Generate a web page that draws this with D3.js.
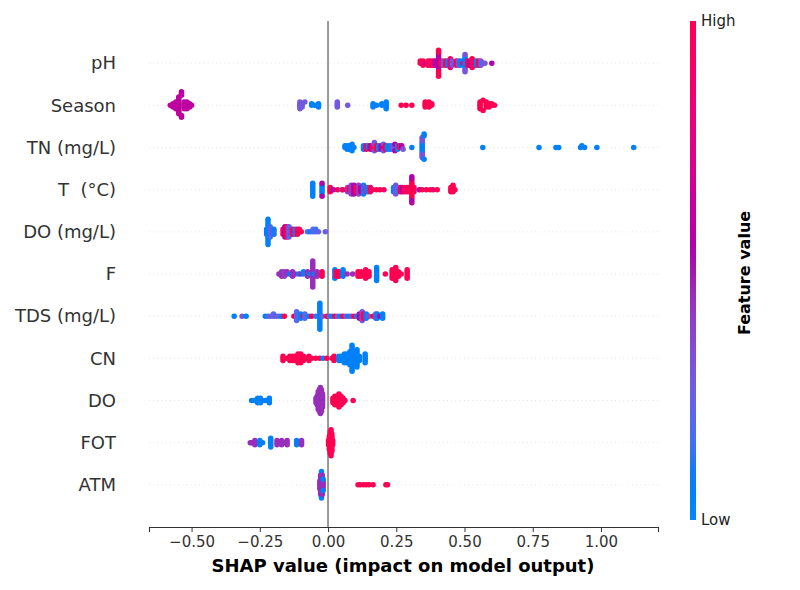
<!DOCTYPE html>
<meta charset="utf-8">
<body style="margin:0;background:#fff">
<script src="https://cdn.jsdelivr.net/npm/d3@7"></script>
<script>
var features = ["pH", "Season", "TN (mg/L)", "T  (°C)", "DO (mg/L)", "F", "TDS (mg/L)", "CN", "DO", "FOT", "ATM"];

// each entry: [shap value, feature value (0 low .. 1 high), number of samples]
var pH = [[0.338,1,2],[0.348,1,3],[0.358,0.55,1],[0.366,1,3],[0.375,0.9,3],[0.384,1,3],[0.392,0.6,3],
  [0.405,0.55,8],[0.405,1,5],[0.415,1,3],[0.423,0.28,3],[0.432,1,3],[0.44,0.05,3],[0.448,0.85,5],[0.456,0.3,3],
  [0.464,0.15,1],[0.47,1,3],[0.478,0.3,3],[0.486,0.05,3],[0.494,0.9,1],[0.502,0.05,6],[0.502,0.3,3],[0.512,1,3],
  [0.52,0.55,3],[0.528,1,5],[0.536,0.9,3],[0.544,0.1,3],[0.552,1,3],[0.56,0.3,3],[0.568,0.15,1],[0.575,0.3,1],[0.6,0.55,1]];
var season = [[-0.578,0.6,1],[-0.568,0.6,3],[-0.558,0.6,5],[-0.547,0.6,11],[-0.537,0.6,5],[-0.527,0.6,5],
  [-0.517,0.6,5],[-0.507,0.6,3],[-0.5,0.6,1],
  [-0.103,0.28,5],[-0.095,0.28,3],[-0.085,0.28,1],[-0.06,0.05,2],[-0.048,0.05,1],[-0.035,0.05,3],
  [0.034,0.28,4],[0.072,0.28,1],[0.165,0.05,3],[0.178,0.05,1],[0.197,0.05,2],[0.213,0.05,5],
  [0.268,1,1],[0.286,1,1],[0.307,1,1],[0.356,1,4],[0.37,1,4],[0.38,1,2],
  [0.557,1,5],[0.568,1,2],[0.58,1,4],[0.59,1,3],[0.6,1,2],[0.61,1,1]];
var tn = [[0.062,0.05,2],[0.07,0.05,3],[0.078,0.05,3],[0.088,0.05,2],[0.095,0.05,1],
  [0.13,0.05,3],[0.14,1,3],[0.148,0.05,2],[0.155,0.55,3],[0.163,1,3],[0.17,0.3,3],[0.178,1,3],[0.186,0.05,3],
  [0.195,0.55,3],[0.203,0.3,2],[0.21,1,3],[0.218,0.05,3],[0.228,0.05,3],[0.238,0.3,3],[0.245,0.55,2],
  [0.255,0.05,3],[0.262,1,2],[0.27,0.55,2],[0.275,0.3,1],[0.307,0.05,1],
  [0.345,0.05,7],[0.345,0.3,6],[0.352,0.05,3],[0.567,0.05,1],[0.773,0.05,1],[0.835,0.05,1],[0.845,0.05,1],
  [0.925,0.05,1],[0.93,0.05,1],[0.94,0.05,1],[0.985,0.05,1],[1.12,0.05,1]];
var temp = [[-0.056,0.05,7],[-0.022,0.05,5],[-0.022,0.55,2],[0.008,1,3],[0.02,0.55,1],[0.035,1,1],[0.05,0.3,1],[0.055,1,1],
  [0.072,0.4,3],[0.078,1,2],[0.085,0.4,5],[0.095,0.55,5],[0.103,1,3],[0.112,0.4,5],[0.12,0.6,3],[0.13,0.1,5],
  [0.138,0.4,3],[0.146,0.05,3],[0.155,1,3],[0.163,0.9,1],[0.177,1,1],[0.19,1,1],[0.205,0.9,1],
  [0.24,0.05,3],[0.248,0.3,5],[0.255,0.15,3],[0.265,1,3],[0.272,0.55,3],[0.28,1,3],[0.29,0.9,3],[0.298,1,3],
  [0.307,1,9],[0.307,0.55,4],[0.315,1,3],[0.335,0.55,1],[0.345,1,1],[0.36,1,1],[0.375,1,1],[0.385,0.9,1],
  [0.4,1,1],[0.45,1,3],[0.458,1,4],[0.465,1,1]];
var doMg = [[-0.225,0.08,3],[-0.22,0.05,11],[-0.212,0.15,5],[-0.205,0.3,3],[-0.198,0.1,3],
  [-0.165,1,3],[-0.158,0.55,5],[-0.15,1,5],[-0.143,0.2,5],[-0.135,0.4,3],[-0.128,1,3],[-0.12,0.1,3],
  [-0.112,1,3],[-0.105,0.9,2],[-0.098,1,1],[-0.075,0.2,1],[-0.065,0.1,1],[-0.055,0.2,2],[-0.045,0.15,2],
  [-0.035,0.25,1],[-0.01,0.25,1]];
var fVal = [[-0.18,0.45,1],[-0.17,0.45,3],[-0.16,0.4,3],[-0.15,0.45,2],[-0.14,0.08,1],[-0.13,0.45,3],[-0.12,0.45,1],
  [-0.108,0.05,1],[-0.1,0.45,1],[-0.09,0.05,2],[-0.075,0.45,3],[-0.065,0.05,1],[-0.056,0.45,13],[-0.05,0.05,1],
  [-0.04,0.45,3],[-0.022,1,3],[0.025,0.05,5],[0.03,1,3],[0.04,1,3],[0.055,0.05,4],[0.07,0.45,1],[0.09,0.45,1],
  [0.11,1,3],[0.12,1,3],[0.128,1,1],[0.138,1,5],[0.15,1,3],[0.178,0.05,7],[0.21,1,1],[0.235,1,5],[0.248,1,7],
  [0.258,1,3],[0.268,1,1],[0.29,1,5]];
var tds = [[-0.344,0.05,1],[-0.315,0.3,1],[-0.3,0.05,1],[-0.23,0.05,1],[-0.22,0.15,1],[-0.21,0.3,1],[-0.2,0.2,2],
  [-0.19,0.3,1],[-0.18,0.2,1],[-0.17,0.05,1],[-0.16,1,1],[-0.125,1,1],[-0.115,0.2,5],[-0.1,0.05,3],[-0.09,1,1],
  [-0.085,0.2,3],[-0.07,0.05,1],[-0.06,1,1],[-0.045,0.15,1],[-0.03,0.05,13],[-0.02,0.2,1],[-0.005,1,1],
  [0.005,0.2,1],[0.015,0.05,1],[0.025,1,1],[0.035,0.3,1],[0.045,0.05,1],[0.055,1,1],[0.065,0.3,1],[0.075,0.05,1],
  [0.085,0.3,1],[0.095,1,1],[0.105,0.05,1],[0.115,0.55,3],[0.125,0.3,5],[0.13,1,3],[0.14,0.05,3],[0.15,0.3,1],
  [0.165,1,1],[0.175,0.3,3],[0.18,0.05,3],[0.19,0.55,1],[0.2,0.05,3]];
var cn = [[-0.165,1,3],[-0.15,1,1],[-0.14,1,3],[-0.13,1,3],[-0.12,1,3],[-0.11,1,5],[-0.1,1,5],[-0.09,1,3],
  [-0.08,1,1],[-0.07,1,3],[-0.06,1,1],[-0.045,1,1],[-0.03,1,1],[-0.018,0.05,1],[-0.005,1,1],[0.015,1,1],
  [0.022,1,3],[0.03,1,1],[0.04,0.05,3],[0.05,0.05,3],[0.06,0.05,5],[0.07,0.05,5],[0.08,0.05,7],[0.088,0.05,13],
  [0.098,0.05,7],[0.106,0.05,9],[0.115,0.05,3],[0.136,0.05,5]];
var doSat = [[-0.28,0.05,1],[-0.27,0.05,1],[-0.258,0.05,3],[-0.248,0.05,3],[-0.24,0.05,1],[-0.23,0.05,1],[-0.215,0.05,3],
  [-0.044,0.45,3],[-0.04,0.45,5],[-0.036,0.45,9],[-0.032,0.45,11],[-0.028,0.45,13],[-0.024,0.45,11],
  [-0.02,0.45,7],[0.018,1,3],[0.025,1,5],[0.033,1,5],[0.04,1,7],[0.048,1,5],[0.055,1,3],
  [0.062,1,1],[0.092,1,1]];
var fot = [[-0.285,0.45,1],[-0.28,0.45,1],[-0.275,0.45,1],[-0.268,0.45,3],[-0.262,0.45,1],[-0.25,0.05,3],[-0.24,0.05,1],
  [-0.21,0.05,5],[-0.187,0.45,3],[-0.18,0.45,1],[-0.17,0.45,3],[-0.16,0.45,1],[-0.15,0.45,3],[-0.115,0.05,3],
  [-0.097,0.45,3],[0.002,1,3],[0.005,1,7],[0.008,1,11],[0.011,1,13],[0.014,1,9],[0.017,1,3]];
var atm = [[-0.03,0.45,5],[-0.027,0.45,11],[-0.024,0.45,13],[-0.024,0.05,2],[-0.021,0.45,11],[-0.018,0.45,5],
  [-0.018,0.05,2],[0.11,1,1],[0.118,1,1],[0.13,1,1],[0.14,1,1],[0.15,1,1],[0.165,1,1],[0.212,1,1],[0.218,1,1]];

var rows = [pH, season, tn, temp, doMg, fVal, tds, cn, doSat, fot, atm];
var xTicks = [-0.5, -0.25, 0, 0.25, 0.5, 0.75, 1.0];

var svg = d3.select("body").append("svg").attr("width", 800).attr("height", 590)
  .style("font-family", "DejaVu Sans, sans-serif");

var x = d3.scaleLinear().domain([-0.656, 1.209]).range([149, 658]);
var y = d3.scaleLinear().domain([-1, features.length]).range([527, 21]);
var n = features.length;

// shap red_blue colormap (interpolated in LCH)
function shapColor(t) {
  var l = t < 0.5 ? 54 - 28 * t : 40 + 28 * (t - 0.5);
  var c = 70 + 20 * t;
  var h = (4.6588 + t * (0.35470565 + 2 * Math.PI - 4.6588)) * 180 / Math.PI;
  return d3.hcl(h, c, l).formatHex();
}

// grid lines
features.forEach(function (f, i) {
  svg.append("line").attr("x1", 149).attr("x2", 658)
    .attr("y1", y(n - 1 - i)).attr("y2", y(n - 1 - i))
    .attr("stroke", "#cccccc").attr("stroke-width", 0.7).attr("stroke-dasharray", "0.7,3.5");
});

// zero line
svg.append("line").attr("x1", x(0)).attr("x2", x(0)).attr("y1", 21).attr("y2", 527)
  .attr("stroke", "#999999").attr("stroke-width", 2);

// beeswarm
rows.forEach(function (clusters, i) {
  var pos = n - 1 - i;
  var pts = [];
  clusters.forEach(function (c) { for (var k = 0; k < c[2]; k++) pts.push({s: c[0], v: c[1]}); });
  var mn = d3.min(pts, function (p) { return p.s; }), mx = d3.max(pts, function (p) { return p.s; });
  pts.forEach(function (p) { p.q = Math.round(100 * (p.s - mn) / (mx - mn + 1e-8)); });
  var order = d3.range(pts.length).sort(function (a, b) { return pts[a].q - pts[b].q || a - b; });
  var layer = 0, last = -1;
  order.forEach(function (k) {
    if (pts[k].q !== last) layer = 0;
    pts[k].ly = Math.ceil(layer / 2) * ((layer % 2) * 2 - 1);
    layer++;
    last = pts[k].q;
  });
  var mL = d3.max(pts, function (p) { return p.ly + 1; });
  svg.append("g").selectAll("circle").data(pts).enter().append("circle")
    .attr("cx", function (p) { return x(p.s); })
    .attr("cy", function (p) { return y(pos + p.ly * 0.9 * 0.4 / mL); })
    .attr("r", 2.75)
    .attr("fill", function (p) { return shapColor(p.v); });
});

// feature labels
features.forEach(function (f, i) {
  svg.append("text").attr("x", 116).attr("y", y(n - 1 - i)).attr("dy", "0.35em")
    .attr("text-anchor", "end").style("white-space", "pre")
    .attr("font-size", 18).attr("fill", "#333333").text(f);
});

// x axis
var ax = svg.append("g").attr("transform", "translate(0,527)")
  .call(d3.axisBottom(x).tickValues(xTicks).tickFormat(d3.format(".2f")).tickSizeOuter(0).tickSize(5).tickPadding(4));
ax.select(".domain").attr("stroke", "#333333").attr("stroke-width", 1.1);
ax.selectAll(".tick line").attr("stroke", "#333333");
ax.selectAll(".tick text").attr("font-size", 15).attr("fill", "#333333").attr("font-family", "DejaVu Sans, sans-serif");

svg.append("text").attr("x", 403).attr("y", 572).attr("text-anchor", "middle")
  .attr("font-size", 18).attr("font-weight", "bold").attr("fill", "#000")
  .text("SHAP value (impact on model output)");

// colour bar
var grad = svg.append("defs").append("linearGradient").attr("id", "cb")
  .attr("x1", 0).attr("y1", 1).attr("x2", 0).attr("y2", 0);
d3.range(0, 1.0001, 0.05).forEach(function (t) {
  grad.append("stop").attr("offset", t).attr("stop-color", shapColor(t));
});
svg.append("rect").attr("x", 690).attr("y", 21).attr("width", 6).attr("height", 499).attr("fill", "url(#cb)");
svg.append("text").attr("x", 701).attr("y", 21).attr("dy", "0.35em").attr("font-size", 15).attr("fill", "#222").text("High");
svg.append("text").attr("x", 701).attr("y", 520).attr("dy", "0.35em").attr("font-size", 15).attr("fill", "#222").text("Low");
svg.append("text").attr("transform", "translate(744,273) rotate(-90)").attr("dy", "0.35em")
  .attr("text-anchor", "middle").attr("font-size", 16).attr("font-weight", "bold").attr("fill", "#000")
  .text("Feature value");
</script>
</body>
